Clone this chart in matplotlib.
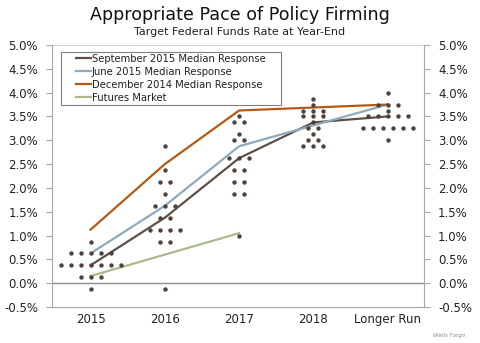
import matplotlib
matplotlib.use("Agg")
import matplotlib.pyplot as plt
from matplotlib.patches import Rectangle
import numpy as np
from collections import Counter

# Categories on the x axis
categories = ["2015", "2016", "2017", "2018", "Longer Run"]

# FOMC participant projections (percent), one entry per participant
dots_2015 = [0.875, 0.625, 0.625, 0.625, 0.625, 0.625,
             0.375, 0.375, 0.375, 0.375, 0.375, 0.375, 0.375,
             0.125, 0.125, 0.125, -0.125]
dots_2016 = [2.875, 2.375, 2.125, 2.125, 1.875, 1.625, 1.625, 1.625,
             1.375, 1.375, 1.125, 1.125, 1.125, 1.125, 0.875, 0.875, -0.125]
dots_2017 = [3.5, 3.375, 3.375, 3.125, 3.0, 3.0, 2.625, 2.625, 2.625,
             2.375, 2.375, 2.125, 2.125, 1.875, 1.875, 1.0]
dots_2018 = [3.875, 3.75, 3.625, 3.625, 3.625, 3.5, 3.5, 3.5, 3.375,
             3.25, 3.25, 3.125, 3.0, 3.0, 2.875, 2.875, 2.875]
dots_longer = [4.0, 3.75, 3.75, 3.75, 3.625, 3.5, 3.5, 3.5, 3.5, 3.5,
               3.25, 3.25, 3.25, 3.25, 3.25, 3.25, 3.0]
dots_all = [dots_2015, dots_2016, dots_2017, dots_2018, dots_longer]

# Median responses and market path
sep2015_idx = [0, 1, 2, 3, 4]
sep2015 = [0.375, 1.375, 2.625, 3.375, 3.5]
jun2015_idx = [0, 1, 2, 4]
jun2015 = [0.625, 1.625, 2.875, 3.75]
dec2014_idx = [0, 1, 2, 4]
dec2014 = [1.125, 2.5, 3.625, 3.75]
futures_idx = [0, 1, 2]
futures = [0.15, 0.6, 1.05]

yticks = np.arange(-0.5, 5.01, 0.5)
ytick_labels = [f"{v:.1f}%" for v in yticks]

c_sep = "#5e5049"
c_jun = "#8eaabd"
c_dec = "#b35a17"
c_fut = "#a9b98c"
c_dot = "#4f423b"
c_axis = "#a6a6a6"

fig = plt.figure(figsize=(4.8, 3.43), dpi=100)
ax = fig.add_axes([52 / 480, 1 - 307 / 343, (424 - 52) / 480, (307 - 45) / 343])

lw = 1.6
ax.plot(sep2015_idx, sep2015, color=c_sep, lw=lw, label="September 2015 Median Response", zorder=3)
ax.plot(jun2015_idx, jun2015, color=c_jun, lw=lw, label="June 2015 Median Response", zorder=3)
ax.plot(dec2014_idx, dec2014, color=c_dec, lw=lw, label="December 2014 Median Response", zorder=3)
ax.plot(futures_idx, futures, color=c_fut, lw=lw, label="Futures Market", zorder=3)

# Dot plot: participants at the same rate spread side by side
step = 0.135
for i, vals in enumerate(dots_all):
    counts = Counter(vals)
    for rate, n in counts.items():
        xs = i + (np.arange(n) - (n - 1) / 2) * step
        ax.scatter(xs, [rate] * n, s=10, color=c_dot, zorder=4, linewidths=0)

ax.axhline(0, color="#8c8c8c", lw=1.0, zorder=2)
ax.axhline(5.0, color="#d0d0d0", lw=0.8, zorder=1)

ax.set_xlim(-0.52, 4.49)
ax.set_ylim(-0.5, 5.0)
ax.set_yticks(yticks)
ax.set_yticklabels(ytick_labels, fontsize=8.5, color="#222222")
ax.set_xticks(range(len(categories)))
ax.set_xticklabels(categories, fontsize=8.5, color="#222222")
ax.tick_params(axis="x", length=0, pad=4)
ax.tick_params(axis="y", length=4, color=c_axis, direction="out", pad=6)

for side in ["left", "bottom"]:
    ax.spines[side].set_color(c_axis)
ax.spines["top"].set_visible(False)
ax.spines["right"].set_visible(False)

ax2 = ax.twinx()
ax2.set_ylim(ax.get_ylim())
ax2.set_yticks(yticks)
ax2.set_yticklabels(ytick_labels, fontsize=8.5, color="#222222")
ax2.tick_params(axis="y", length=4, color=c_axis, direction="out", pad=6)
for side in ["left", "top", "bottom"]:
    ax2.spines[side].set_visible(False)
ax2.spines["right"].set_color(c_axis)

# Legend box drawn separately so its padding can differ per side
box = Rectangle((0.0242, 0.771), 0.5914, 0.2023, transform=ax.transAxes,
                facecolor="white", edgecolor="#808080", lw=0.8, zorder=5)
ax.add_patch(box)
leg = ax.legend(loc="upper left", bbox_to_anchor=(0.0645, 0.966), fontsize=7.2,
                frameon=False, handlelength=1.5, handletextpad=0.1,
                labelspacing=0.3, borderpad=0.0, borderaxespad=0.0)
leg.set_zorder(6)
for t in leg.get_texts():
    t.set_color("#222222")

fig.text(0.5, 1 - 15 / 343, "Appropriate Pace of Policy Firming", ha="center", va="center",
         fontsize=12.6, color="#111111")
fig.text(0.5, 1 - 32 / 343, "Target Federal Funds Rate at Year-End", ha="center", va="center",
         fontsize=8, color="#222222")
fig.text(465 / 480, 1 - 335 / 343, "Wells Fargo", ha="right", va="center",
         fontsize=4, style="italic", color="#888888")

fig.savefig("out.png", dpi=100)
